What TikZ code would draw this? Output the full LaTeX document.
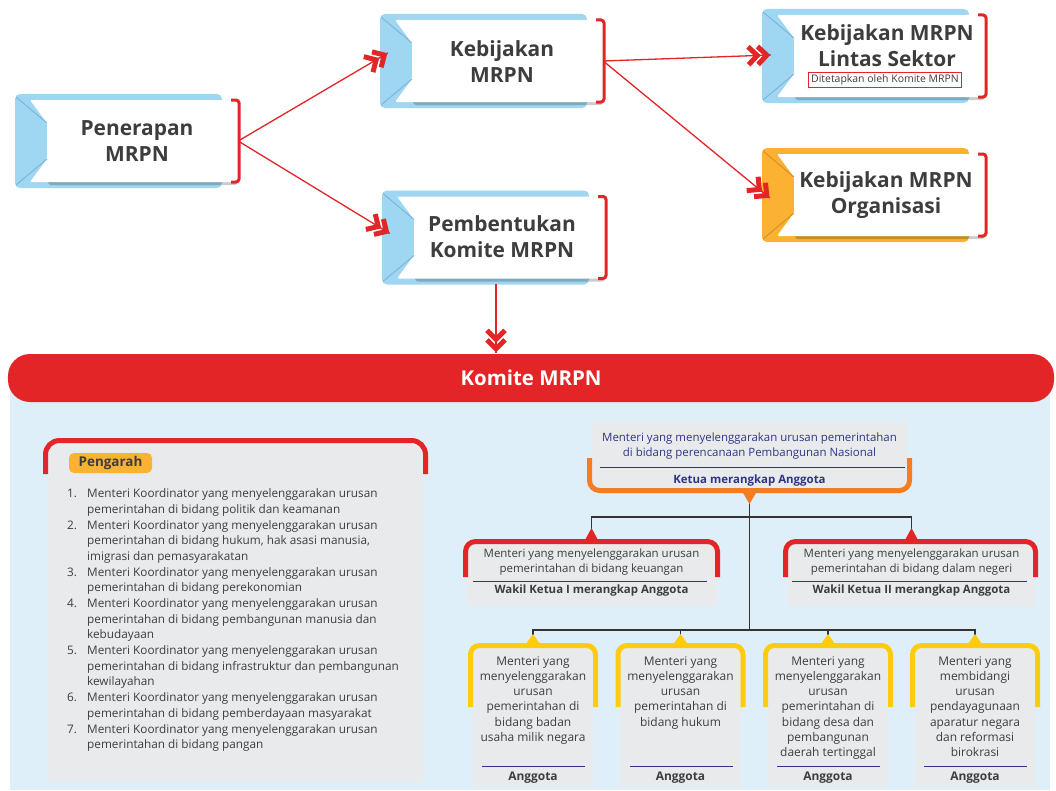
\documentclass[tikz,border=0pt]{standalone}
\usepackage{fontspec}
\setmainfont{Open Sans}
\usetikzlibrary{decorations.markings}
\definecolor{redc}{HTML}{E42528}
\definecolor{bluec}{HTML}{9FD6F2}
\definecolor{bluefold}{HTML}{7DB6D8}
\definecolor{orangeb}{HTML}{FBB131}
\definecolor{orangefold}{HTML}{D9902A}
\definecolor{yellowc}{HTML}{FFCC0D}
\definecolor{orangeK}{HTML}{F47C22}
\definecolor{bgblue}{HTML}{DEEFF9}
\definecolor{grayp}{HTML}{E9EAEC}
\definecolor{navy}{HTML}{2E3586}
\definecolor{txtc}{HTML}{3D3D3D}
\definecolor{treec}{HTML}{333333}
\newcommand\mytopbox[5]{%
  \fill[#4, rounded corners=5bp] ({#2-119},{#3-47}) rectangle ({#2+88},{#3+47});
  \fill[black, opacity=.2, rounded corners=3bp] ({#2-86},{#3-37}) rectangle ({#2+104},{#3+44});
  \fill[white, rounded corners=2bp] ({#2-104},{#3-41}) -- ({#2-87},{#3-18}) -- ({#2-87},{#3+18}) -- ({#2-104},{#3+41}) -- ({#2+104},{#3+41}) -- ({#2+104},{#3-41}) -- cycle;
  \draw[#5, line width=1bp] ({#2-118},{#3-44}) -- ({#2-87},{#3-18});
  \draw[#5, line width=1bp] ({#2-87},{#3+18}) -- ({#2-118},{#3+44});
  \draw[redc, line width=3bp, rounded corners=3bp] ({#2+97},{#3-41}) -- ({#2+105},{#3-41}) -- ({#2+105},{#3+41}) -- ({#2+97},{#3+41});
  \node[inner sep=0, minimum width=208bp, minimum height=82bp] (#1) at (#2,#3) {};
}
\tikzset{
  chevstroke/.style={redc, line width=5bp, line cap=butt, line join=miter, miter limit=10},
  redline/.style={draw=redc, line width=1.3bp, postaction=decorate,
    decoration={markings, mark=at position 1 with {
      \draw[chevstroke] (-13bp,9bp) -- (-4bp,0bp) -- (-13bp,-9bp);
      \draw[chevstroke] (-22.5bp,9bp) -- (-13.5bp,0bp) -- (-22.5bp,-9bp);
    }}},
  toptext/.style={inner sep=0, align=center, text=txtc, font=\fontsize{21}{26}\selectfont\bfseries},
  treeline/.style={draw=treec, line width=1.6bp},
  graybox/.style={fill=grayp, inner sep=0},
  sepline/.style={draw=navy, line width=1bp},
  smalltext/.style={inner sep=0, align=center, text=txtc, font=\fontsize{11.5}{15}\selectfont},
  boldtext/.style={inner sep=0, text=txtc, font=\fontsize{11.5}{15}\selectfont\bfseries},
  angtext/.style={inner sep=0, anchor=north, align=center, text=txtc, font=\fontsize{12}{15.2}\selectfont},
}
\begin{document}
\begin{tikzpicture}[x=1bp,y=-1bp]
\useasboundingbox (0,0) rectangle (1056,791);
\fill[white] (0,0) rectangle (1056,791);

% top boxes
\mytopbox{pen}{134}{141}{bluec}{bluefold}
\mytopbox{keb}{499}{61}{bluec}{bluefold}
\mytopbox{pem}{501}{237.5}{bluec}{bluefold}
\mytopbox{lin}{881}{56}{bluec}{bluefold}
\mytopbox{org}{881}{195}{orangeb}{orangefold}

\node[toptext] (pent) at (137,141) {Penerapan\\MRPN};
\node[toptext] (kebt) at (502,62) {Kebijakan\\MRPN};
\node[toptext] (pemt) at (502,237) {Pembentukan\\Komite MRPN};
\node[toptext] (lint) at (887,46) {Kebijakan MRPN\\Lintas Sektor};
\node[draw=redc, line width=0.8bp, inner xsep=3bp, inner ysep=2bp, text=txtc, font=\fontsize{10.5}{12}\selectfont] (lins) at (885,80) {Ditetapkan oleh Komite MRPN};
\node[toptext] (orgt) at (886,195) {Kebijakan MRPN\\Organisasi};

% connectors
\draw[redline] (pen.east) -- ([xshift=-7bp,yshift=8bp]keb.west);
\draw[redline] (pen.east) -- ([xshift=-7bp,yshift=4bp]pem.west);
\draw[redline] (keb.east) -- ([xshift=-6bp,yshift=1bp]lin.west);
\draw[redline] (keb.east) -- ([xshift=-7bp,yshift=-3bp]org.west);

% Komite panel
\fill[bgblue] (10,380) rectangle (1050,790);
\node[fill=redc, rounded corners=22bp, minimum width=1046bp, minimum height=48bp, inner sep=0, text=white, font=\fontsize{20.5}{22}\selectfont\bfseries] (komite) at (531,378) {Komite MRPN};
\draw[redline] ([xshift=-5bp,yshift=-5bp]pem.south) -- ([xshift=-5bp,yshift=1bp]pem.south |- komite.north);

% Pengarah
\node[graybox, minimum width=375bp, minimum height=340bp] (pbox) at (235.5,612) {};
\draw[redc, line width=5bp, rounded corners=14bp] (45.5,474) -- (45.5,440.5) -- (425.5,440.5) -- (425.5,474);
\node[fill=orangeb, rounded corners=5bp, minimum width=83bp, minimum height=20bp, inner sep=0, text=txtc, font=\fontsize{13.5}{15}\selectfont\bfseries] (peng) at (110.5,463) {Pengarah};
\node[anchor=north west, inner sep=0, text=txtc, font=\fontsize{11.8}{15.75}\selectfont] (plist) at (67,486.5) {%
\begin{tabular}{@{}p{20bp}@{}l@{}}
1. & Menteri Koordinator yang menyelenggarakan urusan\\
   & pemerintahan di bidang politik dan keamanan\\
2. & Menteri Koordinator yang menyelenggarakan urusan\\
   & pemerintahan di bidang hukum, hak asasi manusia,\\
   & imigrasi dan pemasyarakatan\\
3. & Menteri Koordinator yang menyelenggarakan urusan\\
   & pemerintahan di bidang perekonomian\\
4. & Menteri Koordinator yang menyelenggarakan urusan\\
   & pemerintahan di bidang pembangunan manusia dan\\
   & kebudayaan\\
5. & Menteri Koordinator yang menyelenggarakan urusan\\
   & pemerintahan di bidang infrastruktur dan pembangunan\\
   & kewilayahan\\
6. & Menteri Koordinator yang menyelenggarakan urusan\\
   & pemerintahan di bidang pemberdayaan masyarakat\\
7. & Menteri Koordinator yang menyelenggarakan urusan\\
   & pemerintahan di bidang pangan
\end{tabular}};

% Org chart boxes
\node[graybox, minimum width=315bp, minimum height=68bp] (ketua) at (749.5,456) {};
\node[graybox, minimum width=251bp, minimum height=62bp] (wk1) at (591.5,575) {};
\node[graybox, minimum width=249bp, minimum height=62bp] (wk2) at (911.5,575) {};
\node[graybox, minimum width=120bp, minimum height=139bp] (a1) at (533,717.5) {};
\node[graybox, minimum width=121bp, minimum height=139bp] (a2) at (680.5,717.5) {};
\node[graybox, minimum width=120bp, minimum height=139bp] (a3) at (828,717.5) {};
\node[graybox, minimum width=120bp, minimum height=139bp] (a4) at (975,717.5) {};

% tree lines
\coordinate (hub1) at (749.5,517);
\coordinate (hub2) at (749.5,630);
\draw[treeline] (ketua.south) -- (hub2);
\draw[treeline] (wk1.north) |- (hub1) -| (wk2.north);
\draw[treeline] (a1.north) |- (hub2) -| (a4.north);
\draw[treeline] (a2.north) |- (hub2);
\draw[treeline] (a3.north) |- (hub2);

% coloured frames
\draw[orangeK, line width=5bp, rounded corners=10bp] (589.5,458) -- (589.5,490.5) -- (909.5,490.5) -- (909.5,458);
\fill[orangeK] (742.5,492) -- (756.5,492) -- (749.5,504) -- cycle;
\draw[redc, line width=5bp, rounded corners=10bp] (465.5,577) -- (465.5,541.5) -- (717.5,541.5) -- (717.5,577);
\fill[redc] (584.5,541) -- (598.5,541) -- (591.5,528) -- cycle;
\draw[redc, line width=5bp, rounded corners=10bp] (785.5,577) -- (785.5,541.5) -- (1035.5,541.5) -- (1035.5,577);
\fill[redc] (904.5,541) -- (918.5,541) -- (911.5,528) -- cycle;
\foreach \n/\cx in {1/533,2/680.5,3/828,4/975}{
  \draw[yellowc, line width=5bp, rounded corners=9bp] (\cx-62.5,707) -- (\cx-62.5,645.5) -- (\cx+62.5,645.5) -- (\cx+62.5,707);
  \fill[yellowc] (\cx-7,644) -- (\cx+7,644) -- (\cx,634) -- cycle;
  \draw[sepline] (\cx-51,766) -- (\cx+52,766);
  \node[boldtext, font=\fontsize{12}{14}\selectfont\bfseries] (ang\n) at (\cx,777.5) {Anggota};
}

% texts in org chart
\node[smalltext, text=navy] (ketuat) at (749.5,446) {Menteri yang menyelenggarakan urusan pemerintahan\\di bidang perencanaan Pembangunan Nasional};
\draw[sepline] (600,467) -- (905,467);
\node[boldtext, text=navy] (ketuab) at (749.5,481) {Ketua merangkap Anggota};

\node[smalltext] (wk1t) at (591.5,562) {Menteri yang menyelenggarakan urusan\\pemerintahan di bidang keuangan};
\draw[sepline] (473,581) -- (707,581);
\node[boldtext] (wk1b) at (591.5,591) {Wakil Ketua I merangkap Anggota};
\node[smalltext] (wk2t) at (911.5,562) {Menteri yang menyelenggarakan urusan\\pemerintahan di bidang dalam negeri};
\draw[sepline] (792,581) -- (1027,581);
\node[boldtext] (wk2b) at (911.5,591) {Wakil Ketua II merangkap Anggota};

\node[angtext] (a1t) at (533,656.5) {Menteri yang\\menyelenggarakan\\urusan\\pemerintahan di\\bidang badan\\usaha milik negara};
\node[angtext] (a2t) at (680.5,656.5) {Menteri yang\\menyelenggarakan\\urusan\\pemerintahan di\\bidang hukum};
\node[angtext] (a3t) at (828,656.5) {Menteri yang\\menyelenggarakan\\urusan\\pemerintahan di\\bidang desa dan\\pembangunan\\daerah tertinggal};
\node[angtext] (a4t) at (975,656.5) {Menteri yang\\membidangi\\urusan\\pendayagunaan\\aparatur negara\\dan reformasi\\birokrasi};
\end{tikzpicture}
\end{document}
